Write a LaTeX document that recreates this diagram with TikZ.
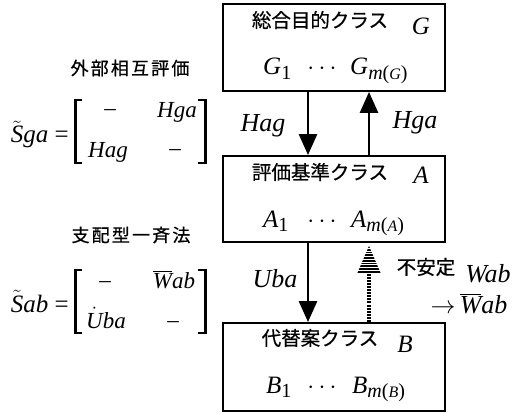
\documentclass[tikz,border=0pt]{standalone}
\usepackage{fontspec}
\setmainfont{Liberation Serif}
\newfontfamily\jp{Noto Sans CJK JP}[FakeBold=0.6]
\usetikzlibrary{arrows.meta,calc}

% lowered subscript at a fixed size
\newcommand\lowr[1]{\raisebox{-0.17em}{\fontsize{20}{20}\selectfont #1}}
\newcommand\smallcap[1]{{\fontsize{16}{16}\selectfont #1}}
\newcommand\msub[1]{\lowr{m\upshape(\smallcap{\itshape #1}\upshape)}}
\newcommand\barW{$\overline{\mbox{\itshape W}}$}

\begin{document}
\begin{tikzpicture}[x=1pt,y=-1pt,
  classbox/.style={draw, line width=1.9pt, minimum width=222pt, inner sep=0pt},
  jptitle/.style={font=\jp\fontsize{19.5}{19.5}\selectfont, inner sep=0pt},
  jpside/.style={font=\jp\fontsize{18}{18}\selectfont\addfontfeature{LetterSpace=12}, inner sep=0pt},
  sym/.style={font=\fontsize{25}{25}\selectfont\itshape, anchor=base, inner sep=0pt},
  row/.style={font=\fontsize{25}{25}\selectfont\itshape, anchor=base west, inner sep=0pt},
  dots/.style={font=\fontsize{25}{25}\selectfont, anchor=base, inner sep=0pt},
  lab/.style={font=\fontsize{26}{26}\selectfont\itshape, anchor=base, inner sep=0pt},
  ent/.style={font=\fontsize{23}{23}\selectfont\itshape, anchor=base, inner sep=0pt},
  lhs/.style={font=\fontsize{25}{25}\selectfont\itshape, anchor=base east, inner sep=0pt},
  blank/.style={font=\fontsize{23}{23}\selectfont, inner sep=0pt},
  flow/.style={line width=2.8pt, -{Triangle[length=21pt,width=18pt]}},
  brk/.style={line width=2.2pt},
]
\useasboundingbox (0,0) rectangle (524,414);

% the three classes
\node[classbox, minimum height=87pt] (G) at (334,47.5) {};
\node[classbox, minimum height=86pt] (A) at (334,199) {};
\node[classbox, minimum height=88pt] (B) at (334,367) {};

\node[jptitle] (Gt) at (320,20) {総合目的クラス};
\node[sym] (Gs) at (421,35) {G};
\node[row] (G1) at (263,75) {G\lowr{\upshape 1}};
\node[dots] (Gd) at (322,75) {$\cdots$};
\node[row] (Gm) at (350,75) {G\msub{G}};

\node[jptitle] (At) at (320,172) {評価基準クラス};
\node[sym] (As) at (421,183) {A};
\node[row] (A1) at (263,227) {A\lowr{\upshape 1}};
\node[dots] (Ad) at (322,227) {$\cdots$};
\node[row] (Am) at (351,227) {A\msub{A}};

\node[jptitle] (Bt) at (320,338) {代替案クラス};
\node[sym] (Bs) at (405,352) {B};
\node[row] (B1) at (266,393) {B\lowr{\upshape 1}};
\node[dots] (Bd) at (322,393) {$\cdots$};
\node[row] (Bm) at (352,393) {B\msub{B}};

% columns of the connectors
\coordinate (xl) at (308,0);
\coordinate (xr) at (369,0);

\draw[flow] (G.south -| xl) -- (A.north -| xl);
\draw[flow] (A.north -| xr) -- (G.south -| xr);
\draw[flow] (A.south -| xl) -- (B.north -| xl);

% unstable feedback: dotted stem with a striped head
\coordinate (tip) at ($(A.south -| xr)+(0,3)$);
\coordinate (hb) at ($(tip)+(0,28)$);
\draw[line width=3.4pt, dash pattern=on 2pt off 1.1pt] (B.north -| xr) -- (hb);
\begin{scope}
  \clip (tip) -- ($(hb)+(12,0)$) -- ($(hb)+(-12,0)$) -- cycle;
  \foreach \k in {0,...,10}
    \draw[line width=1.8pt] ($(tip)+(-14,1+2.75*\k)$) -- ++(28,0);
\end{scope}

\node[lab] (lHag) at (263,132) {Hag};
\node[lab] (lHga) at (415,129) {Hga};
\node[lab] (lUba) at (275,287) {Uba};
\node[jptitle] (lUn) at (426,267) {不安定};
\node[lab] (lW) at (488,282) {Wab};
\node[lab] (lWb) at (469,313) {$\rightarrow$\,\barW ab};

% side notes and matrices
\node[jpside] (n1) at (130,68) {外部相互評価};
\node[jpside] (n2) at (131,235) {支配型一斉法};

\node[lhs] (S1) at (69,143) {$\tilde{\mbox{\itshape S}}$ga \upshape=};
\draw[brk] (82,100) -- (75.5,100) -- (75.5,163) -- (82,163);
\draw[brk] (198,100) -- (205.5,100) -- (205.5,163) -- (198,163);
\node[blank] (m11) at (110,113) {–};
\node[ent] (m12) at (177,118) {Hga};
\node[ent] (m21) at (108,158) {Hag};
\node[blank] (m22) at (175,153) {–};

\node[lhs] (S2) at (69,312) {$\tilde{\mbox{\itshape S}}$ab \upshape=};
\draw[brk] (82,270) -- (75.5,270) -- (75.5,333) -- (82,333);
\draw[brk] (198,270) -- (205.5,270) -- (205.5,333) -- (198,333);
\node[blank] (k11) at (105,285) {–};
\node[ent] (k12) at (174,288) {\barW ab};
\node[ent] (k21) at (106,328) {$\dot{\mbox{\itshape U}}$ba};
\node[blank] (k22) at (173,325) {–};
\end{tikzpicture}
\end{document}
